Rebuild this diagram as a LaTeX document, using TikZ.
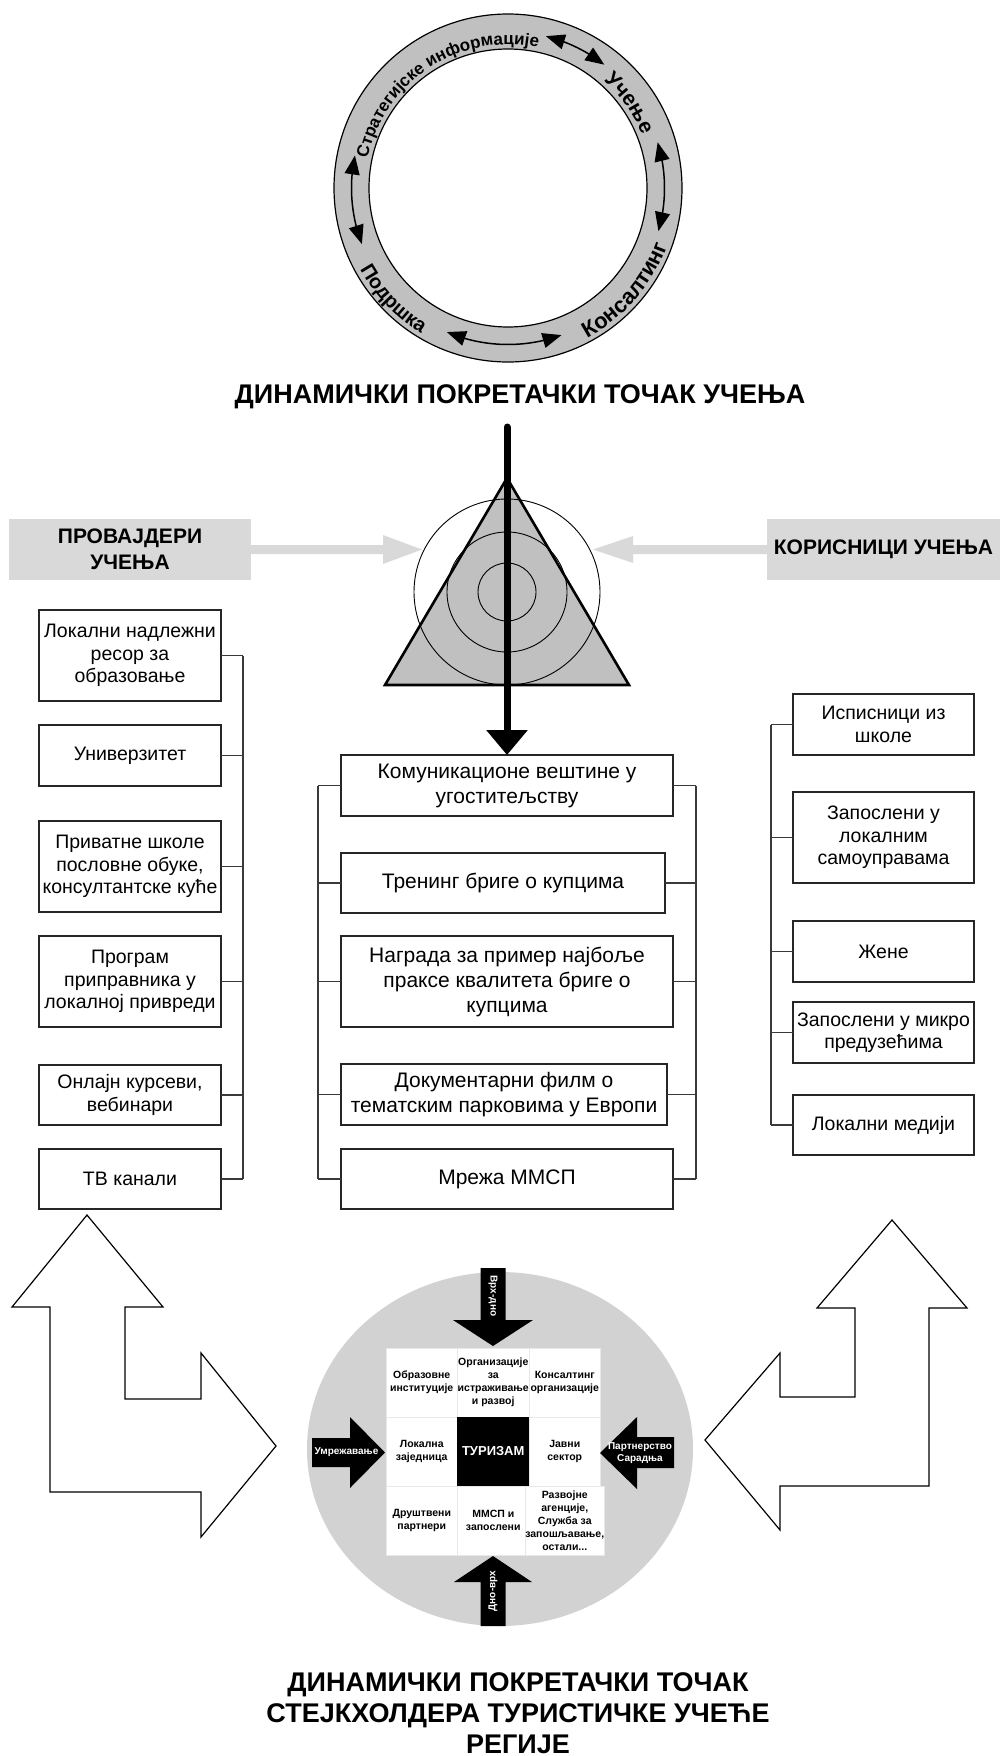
\documentclass[tikz,border=0pt]{standalone}
\usepackage{fontspec}
\setmainfont{Liberation Sans}
\usetikzlibrary{arrows.meta,bending,decorations.text,calc}
\newcommand{\setfs}[2]{\fontsize{#1}{#2}\selectfont}

\definecolor{ringgray}{HTML}{C0C0C0}
\definecolor{panelgray}{HTML}{D9D9D9}
\definecolor{discgray}{HTML}{D2D2D2}
\definecolor{boxline}{HTML}{262626}
\definecolor{connline}{HTML}{3A3A3A}
\definecolor{cellline}{HTML}{E8E8E8}

\begin{document}
\begin{tikzpicture}[x=1pt,y=1pt,
  every node/.style={inner sep=0pt,outer sep=0pt},
  sidebox/.style={draw=boxline,line width=1.3pt,fill=white,align=center,
    minimum width=182,font=\setfs{19.5}{22.5}},
  midbox/.style={draw=boxline,line width=1.3pt,fill=white,align=center,
    font=\setfs{21}{25}},
  conn/.style={draw=connline,line width=1.2pt},
  panel/.style={fill=panelgray,align=center,font={\bfseries\setfs{21}{26}}},
  bigtitle/.style={align=center,font={\bfseries\setfs{27}{31}}},
  ringarr/.style={line width=1.5pt,>={Triangle[length=19pt,width=15pt]},<->},
  cell/.style={minimum width=71.5,minimum height=69,fill=white,draw=cellline,
    line width=0.6pt,align=center,font={\bfseries\setfs{10.5}{13}}},
  arrlabel/.style={text=white,align=center,font={\bfseries\setfs{10}{12.5}}},
  outlinearrow/.style={draw=black,fill=white,line width=1.2pt,line join=miter}
]
\useasboundingbox (0,0) rectangle (1000,-1756);

% ---------- learning wheel ----------
\coordinate (rc) at (508,-188);
\fill[ringgray,even odd rule] (rc) circle[radius=174] (rc) circle[radius=139];
\draw[line width=1.2pt] (rc) circle[radius=174] (rc) circle[radius=139];

\path[decorate,decoration={text along path,text align=center,
    text={|\bfseries\setfs{17}{17}|Стратегијске информације}}]
  ([shift={(183:143.5)}]rc) arc[start angle=183,end angle=63,radius=143.5];
\path[decorate,decoration={text along path,text align=center,
    text={|\bfseries\setfs{21}{21}|Учење}}]
  ([shift={(85:144)}]rc) arc[start angle=85,end angle=-15,radius=144];
\path[decorate,decoration={text along path,text align=center,
    text={|\bfseries\setfs{22}{22}|Консалтинг}}]
  ([shift={(-101:169.5)}]rc) arc[start angle=-101,end angle=19,radius=169.5];
\path[decorate,decoration={text along path,text align=center,
    text={|\bfseries\setfs{20}{20}|Подршка}}]
  ([shift={(164:169)}]rc) arc[start angle=164,end angle=284,radius=169];

\draw[ringarr] ([shift={(76:156.5)}]rc) arc[start angle=76,end angle=52,radius=156.5];
\draw[ringarr] ([shift={(17:156.5)}]rc) arc[start angle=17,end angle=-16,radius=156.5];
\draw[ringarr] ([shift={(-70:156.5)}]rc) arc[start angle=-70,end angle=-113,radius=156.5];
\draw[ringarr] ([shift={(168:156.5)}]rc) arc[start angle=168,end angle=201,radius=156.5];

\node[bigtitle] (title1) at (520,-397) {ДИНАМИЧКИ ПОКРЕТАЧКИ ТОЧАК УЧЕЊА};

% ---------- triangle with target ----------
\coordinate (apex) at (507,-478);
\coordinate (bl) at (385,-685);
\coordinate (br) at (629,-685);
\coordinate (tc) at (507,-592);
\fill[ringgray] (apex) -- (bl) -- (br) -- cycle;
\draw[line width=0.9pt] (tc) circle[radius=93] (tc) circle[radius=60] (tc) circle[radius=29];
\draw[line width=2.6pt,line join=miter] (apex) -- (bl) -- (br) -- cycle;

% ---------- providers / users headers ----------
\node[panel,minimum width=242,minimum height=61] (prov) at (130,-549.5) {ПРОВАЈДЕРИ\\УЧЕЊА};
\node[panel,minimum width=233,minimum height=61] (kor) at (883.5,-549.5) {КОРИСНИЦИ УЧЕЊА};
\fill[panelgray] ([yshift=4.5]prov.east) -- ++(132,0) -- ++(0,10) -- (422,-549.5)
  -- (383,-564) -- ++(0,10) -- ([yshift=-4.5]prov.east) -- cycle;
\fill[panelgray] ([yshift=4.5]kor.west) -- ++(-134,0) -- ++(0,9) -- (593,-549.5)
  -- (633,-563) -- ++(0,9) -- ([yshift=-4.5]kor.west) -- cycle;

% ---------- providers column ----------
\node[sidebox,minimum height=91] (p1) at (130,-655.5) {Локални надлежни\\ресор за\\образовање};
\node[sidebox,minimum height=61] (p2) at (130,-755.5) {Универзитет};
\node[sidebox,minimum height=91] (p3) at (130,-866.5) {Приватне школе\\пословне обуке,\\консултантске куће};
\node[sidebox,minimum height=91] (p4) at (130,-981.5) {Програм\\приправника у\\локалној привреди};
\node[sidebox,minimum height=60] (p5) at (130,-1095) {Онлајн курсеви,\\вебинари};
\node[sidebox,minimum height=60] (p6) at (130,-1179) {ТВ канали};
\coordinate (busL) at (243,0);
\foreach \n in {p1,p2,p3,p4,p5,p6} \draw[conn] (\n.east) -- (\n.east -| busL);
\draw[conn] (p1.east -| busL) -- (p6.east -| busL);

% ---------- learning content column ----------
\node[midbox,minimum width=332,minimum height=61] (c1) at (507,-785.5) {Комуникационе вештине у\\угоститељству};
\node[midbox,minimum width=324,minimum height=60] (c2) at (503,-883) {Тренинг бриге о купцима};
\node[midbox,minimum width=332,minimum height=91] (c3) at (507,-981.5) {Награда за пример најбоље\\праксе квалитета бриге о\\купцима};
\node[midbox,minimum width=326,minimum height=61] (c4) at (504,-1094.5) {Документарни филм о\\тематским парковима у Европи};
\node[midbox,minimum width=332,minimum height=60] (c5) at (507,-1179) {Мрежа ММСП};
\coordinate (busCL) at (318,0);
\coordinate (busCR) at (696,0);
\foreach \n in {c1,c2,c3,c4,c5} {
  \draw[conn] (\n.west) -- (\n.west -| busCL);
  \draw[conn] (\n.east) -- (\n.east -| busCR);
}
\draw[conn] (c1.west -| busCL) -- (c5.west -| busCL);
\draw[conn] (c1.east -| busCR) -- (c5.east -| busCR);

% ---------- users column ----------
\node[sidebox,minimum width=181,minimum height=61] (r1) at (883.5,-724.5) {Исписници из\\школе};
\node[sidebox,minimum width=181,minimum height=91] (r2) at (883.5,-837.5) {Запослени у\\локалним\\самоуправама};
\node[sidebox,minimum width=181,minimum height=61] (r3) at (883.5,-951.5) {Жене};
\node[sidebox,minimum width=181,minimum height=61] (r4) at (883.5,-1032.5) {Запослени у микро\\предузећима};
\node[sidebox,minimum width=181,minimum height=60] (r5) at (883.5,-1125) {Локални медији};
\coordinate (busR) at (771,0);
\foreach \n in {r1,r2,r3,r4,r5} \draw[conn] (\n.west) -- (\n.west -| busR);
\draw[conn] (r1.west -| busR) -- (r5.west -| busR);

% ---------- main flow arrow ----------
\coordinate (flowtop) at (507,-427);
\draw[line width=7pt,line cap=round,-{Triangle[length=25pt,width=40pt]}] (flowtop) -- (c1.north);

% ---------- two-way L arrows ----------
\draw[outlinearrow] (87,-1215) -- (163,-1307) -- (125,-1307) -- (125,-1399) -- (201,-1399)
  -- (201,-1353) -- (276,-1446) -- (201,-1537) -- (201,-1492) -- (50,-1492) -- (50,-1307)
  -- (12,-1307) -- cycle;
\draw[outlinearrow] (892,-1220) -- (967,-1308) -- (929,-1308) -- (929,-1486) -- (780,-1486)
  -- (780,-1530) -- (705,-1440) -- (780,-1353) -- (780,-1397) -- (855,-1397) -- (855,-1308)
  -- (817,-1308) -- cycle;

% ---------- stakeholder wheel ----------
\coordinate (dc) at (500,-1449);
\fill[discgray] (dc) ellipse[x radius=193,y radius=177];

\node[cell] (g11) at (421.75,-1382.5) {Образовне\\институције};
\node[cell] (g12) at (493.25,-1382.5) {Организације\\за\\истраживање\\и развој};
\node[cell] (g13) at (564.75,-1382.5) {Консалтинг\\организације};
\node[cell] (g21) at (421.75,-1451.5) {Локална\\заједница};
\node[cell,fill=black,draw=black,text=white,font={\bfseries\setfs{13}{15}}] (g22) at (493.25,-1451.5) {ТУРИЗАМ};
\node[cell] (g23) at (564.75,-1451.5) {Јавни\\сектор};
\node[cell] (g31) at (421.75,-1520.5) {Друштвени\\партнери};
\node[cell] (g32) at (493.25,-1520.5) {ММСП и\\запослени};
\node[cell] (g33) at (564.75,-1520.5) {Развојне\\агенције,\\Служба за\\запошљавање,\\остали...};

% block arrows pointing at the grid
\fill[black] (480.5,-1268) -- (480.5,-1320) -- (453,-1320) -- (493,-1346) -- (533,-1320)
  -- (505.5,-1320) -- (505.5,-1268) -- cycle;
\node[arrlabel,rotate=-90] (topdown) at (493,-1296) {Врх-дно};
\fill[black] (480.5,-1626) -- (480.5,-1582) -- (454,-1582) -- (493,-1556) -- (532,-1582)
  -- (505.5,-1582) -- (505.5,-1626) -- cycle;
\node[arrlabel,rotate=90] (bottomup) at (493,-1591) {Дно-врх};
\fill[black] (312,-1438) -- (350,-1438) -- (350,-1417) -- (385,-1452.5) -- (350,-1488)
  -- (350,-1467) -- (312,-1467) -- cycle;
\node[arrlabel] (network) at (346.5,-1452.5) {Умрежавање};
\fill[black] (674,-1437) -- (637,-1437) -- (637,-1417) -- (600,-1453) -- (637,-1489)
  -- (637,-1468) -- (674,-1468) -- cycle;
\node[arrlabel] (partner) at (640,-1453) {Партнерство\\Сарадња};

\node[bigtitle] (title2) at (518,-1713.5) {ДИНАМИЧКИ ПОКРЕТАЧКИ ТОЧАК\\СТЕЈКХОЛДЕРА ТУРИСТИЧКЕ УЧЕЋЕ\\РЕГИЈЕ};
\end{tikzpicture}
\end{document}
